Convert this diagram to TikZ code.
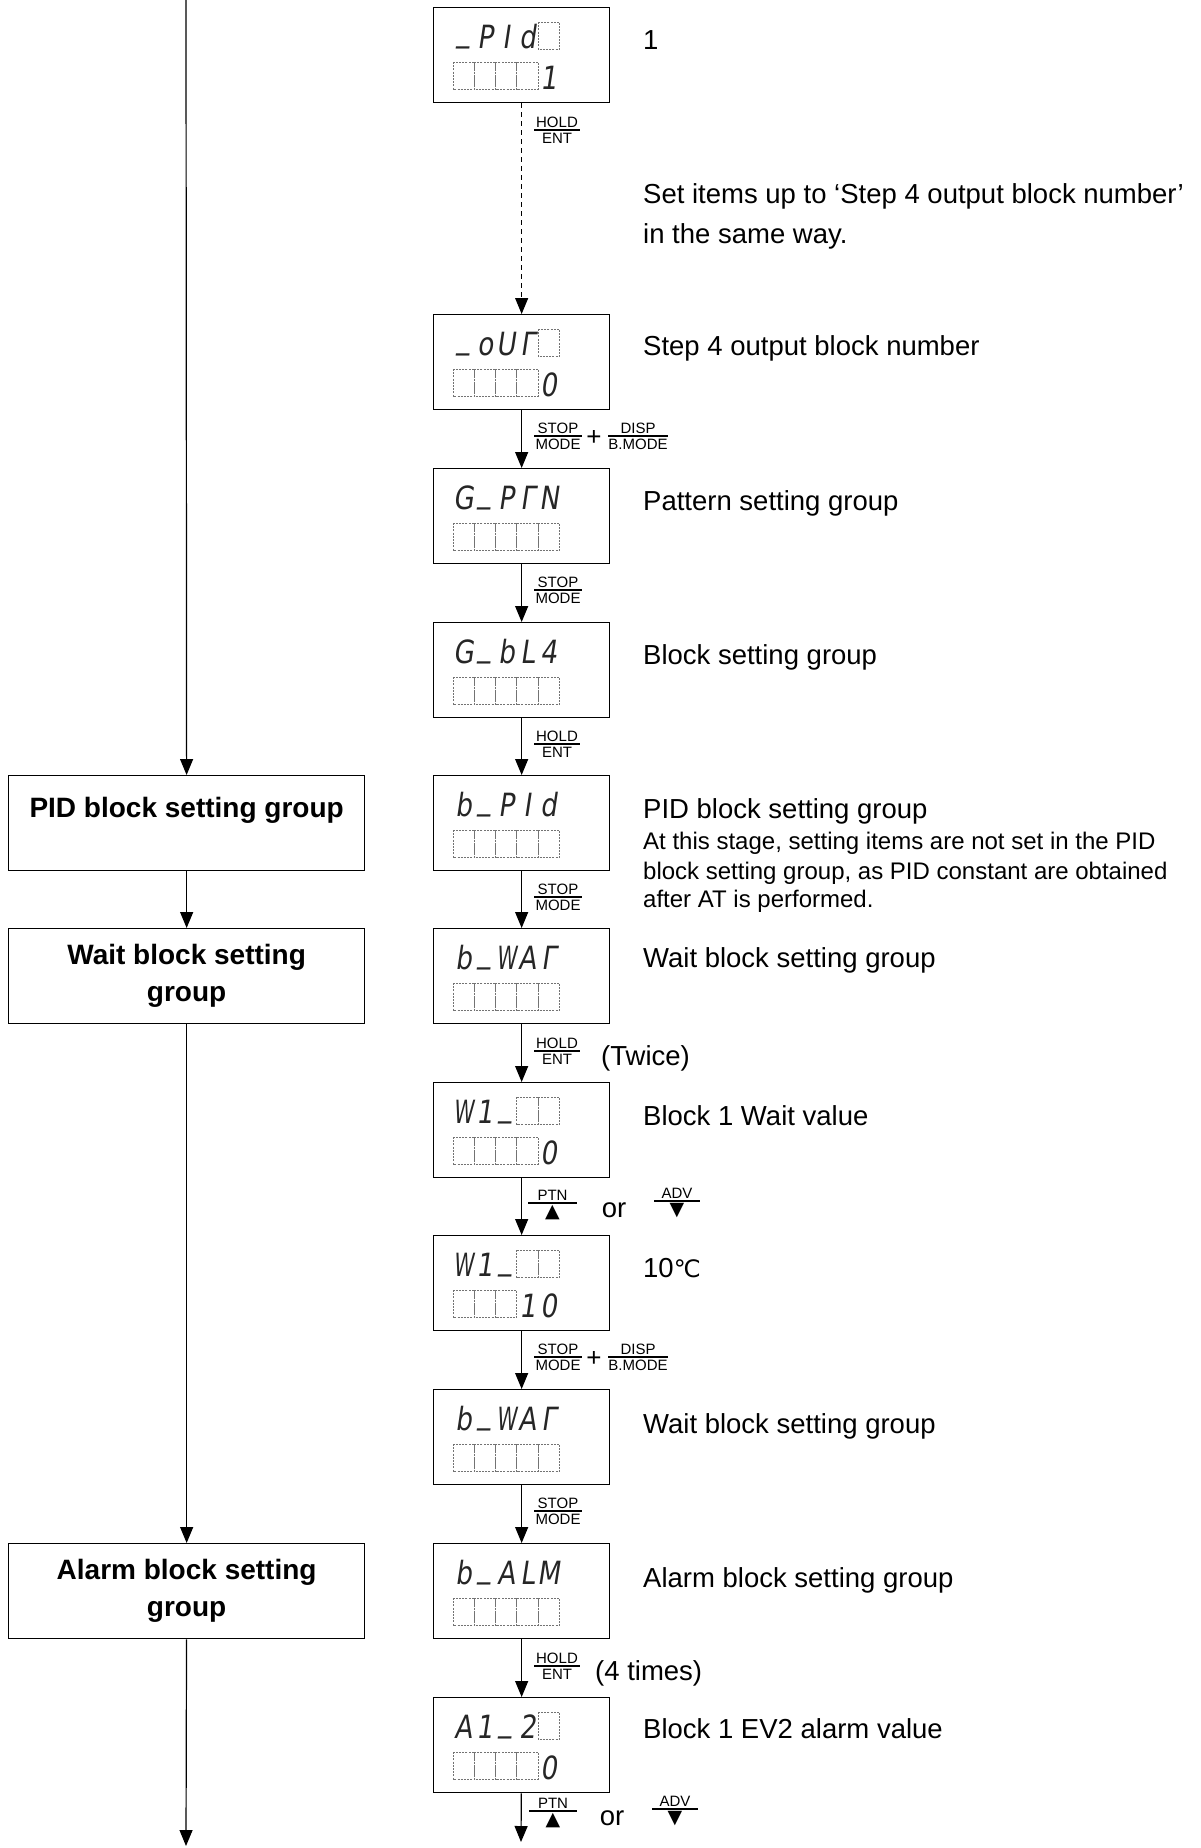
\documentclass[tikz,border=0pt]{standalone}
\usepackage{fontspec}
\usepackage{graphicx}
\setmainfont{Liberation Sans}
\newfontfamily\segfont[FakeSlant=0.15,FakeStretch=0.82]{DejaVu Sans}
\newfontfamily\symfont{DejaVu Sans}
\usetikzlibrary{arrows.meta}
\newcommand\segc[1]{\makebox[21.3pt]{#1}}
\newcommand\segus{\raisebox{0.2em}{\_}}
\newcommand\segw{\scalebox{0.78}[1]{W}}
\newcommand\cellsrow[2]{\foreach \k in {#2} {\draw[cell] ({453+21.3*\k},{#1}) rectangle ++(21.3,27.5);}}
\newcommand\keyf[6]{%
  \draw[keybar] (#2,#3) -- ++(#4,0);
  \node[keyt, anchor=south] (#1t) at ({#2+#4/2},{#3-2}) {#5};
  \node[keyt, anchor=north] (#1b) at ({#2+#4/2},{#3+2.5}) {#6};}
\newcommand\up{{\symfont\fontsize{19}{19}\selectfont ▲}}
\newcommand\down{{\symfont\fontsize{19}{19}\selectfont ▼}}
\begin{document}
\begin{tikzpicture}[x=1pt,y=-1pt,
  plainbox/.style={draw, line width=1.3pt, inner sep=0pt, anchor=north west},
  dispbox/.style={plainbox, minimum width=176pt, minimum height=95pt},
  leftbox/.style={plainbox, minimum width=356pt, minimum height=95pt, align=center,
    font=\fontsize{28}{37}\selectfont\bfseries},
  arr/.style={line width=1.2pt, -{Triangle[length=16pt,width=13pt]}},
  cell/.style={draw=black!55, line width=0.9pt, dash pattern=on 2pt off 1.2pt},
  seg/.style={font=\segfont\fontsize{32}{32}\selectfont, text=black!85, inner sep=0pt, anchor=base west},
  txt/.style={font=\fontsize{27.5}{32}\selectfont, inner sep=0pt, anchor=base west},
  small/.style={font=\fontsize{24}{28}\selectfont, inner sep=0pt, anchor=base west},
  keyt/.style={font=\fontsize{15}{16}\selectfont, inner sep=0pt},
  keybar/.style={line width=1.5pt},
  plus/.style={font=\fontsize{26}{26}\selectfont, inner sep=0pt},
]
\useasboundingbox (0,0) rectangle (1200,1848);

% ---------------- left column ----------------
\coordinate (ltop) at (186,0);
\node[leftbox] (lpid) at (8,775) {PID block setting group\\[-5.5pt]\mbox{}};
\node[leftbox] (lwait) at (8,928) {Wait block setting\\group};
\node[leftbox] (lalarm) at (8,1543) {Alarm block setting\\group};
\coordinate (lbot) at (186,1846);
\draw[arr] (ltop) -- (lpid);
\draw[arr] (lpid) -- (lwait);
\draw[arr] (lwait) -- (lalarm);
\draw[arr] (lalarm) -- (lbot);

% ---------------- displays ----------------
% d1
\node[dispbox] (d1) at (433,7) {};
\node[seg] (d1t) at (453,48) {\segc{\segus}\segc{P}\segc{I}\segc{d}};
\cellsrow{22}{4}
\cellsrow{62}{0,1,2,3}
\node[seg] (d1b) at (538.2,89) {\segc{1}};
% d2
\node[dispbox] (d2) at (433,314) {};
\node[seg] (d2t) at (453,355) {\segc{\segus}\segc{o}\segc{U}\segc{Γ}};
\cellsrow{329}{4}
\cellsrow{369}{0,1,2,3}
\node[seg] (d2b) at (538.2,396) {\segc{0}};
% d3
\node[dispbox] (d3) at (433,468) {};
\node[seg] (d3t) at (453,509) {\segc{G}\segc{\segus}\segc{P}\segc{Γ}\segc{N}};
\cellsrow{523}{0,1,2,3,4}
% d4
\node[dispbox] (d4) at (433,622) {};
\node[seg] (d4t) at (453,663) {\segc{G}\segc{\segus}\segc{b}\segc{L}\segc{4}};
\cellsrow{677}{0,1,2,3,4}
% d5
\node[dispbox] (d5) at (433,775) {};
\node[seg] (d5t) at (453,816) {\segc{b}\segc{\segus}\segc{P}\segc{I}\segc{d}};
\cellsrow{830}{0,1,2,3,4}
% d6
\node[dispbox] (d6) at (433,928) {};
\node[seg] (d6t) at (453,969) {\segc{b}\segc{\segus}\segc{\segw}\segc{A}\segc{Γ}};
\cellsrow{983}{0,1,2,3,4}
% d7
\node[dispbox] (d7) at (433,1082) {};
\node[seg] (d7t) at (453,1123) {\segc{\segw}\segc{1}\segc{\segus}};
\cellsrow{1097}{3,4}
\cellsrow{1137}{0,1,2,3}
\node[seg] (d7b) at (538.2,1164) {\segc{0}};
% d8
\node[dispbox] (d8) at (433,1235) {};
\node[seg] (d8t) at (453,1276) {\segc{\segw}\segc{1}\segc{\segus}};
\cellsrow{1250}{3,4}
\cellsrow{1290}{0,1,2}
\node[seg] (d8b) at (516.9,1317) {\segc{1}\segc{0}};
% d9
\node[dispbox] (d9) at (433,1389) {};
\node[seg] (d9t) at (453,1430) {\segc{b}\segc{\segus}\segc{\segw}\segc{A}\segc{Γ}};
\cellsrow{1444}{0,1,2,3,4}
% d10
\node[dispbox] (d10) at (433,1543) {};
\node[seg] (d10t) at (453,1584) {\segc{b}\segc{\segus}\segc{A}\segc{L}\segc{M}};
\cellsrow{1598}{0,1,2,3,4}
% d11
\node[dispbox] (d11) at (433,1697) {};
\node[seg] (d11t) at (453,1738) {\segc{A}\segc{1}\segc{\segus}\segc{2}};
\cellsrow{1712}{4}
\cellsrow{1752}{0,1,2,3}
\node[seg] (d11b) at (538.2,1779) {\segc{0}};

% ---------------- connectors ----------------
\draw[arr, line width=1pt, dash pattern=on 5pt off 4pt] (d1) -- (d2);
\draw[arr] (d2) -- (d3);
\draw[arr] (d3) -- (d4);
\draw[arr] (d4) -- (d5);
\draw[arr] (d5) -- (d6);
\draw[arr] (d6) -- (d7);
\draw[arr] (d7) -- (d8);
\draw[arr] (d8) -- (d9);
\draw[arr] (d9) -- (d10);
\draw[arr] (d10) -- (d11);
\coordinate (dend) at (521,1842);
\draw[arr] (d11) -- (dend);

% ---------------- key labels ----------------
\keyf{k1}{534}{130}{46}{HOLD}{ENT}
\keyf{k2}{534}{436}{48}{STOP}{MODE}
\node[plus] (k2p) at (594,438) {+};
\keyf{k2d}{608}{436}{60}{DISP}{B.MODE}
\keyf{k3}{534}{590}{48}{STOP}{MODE}
\keyf{k4}{534}{744}{46}{HOLD}{ENT}
\keyf{k5}{534}{897}{48}{STOP}{MODE}
\keyf{k6}{534}{1051}{46}{HOLD}{ENT}
\node[txt] (twice) at (601,1065) {(Twice)};
\keyf{k7}{528}{1203}{49}{PTN}{\up}
\node[txt, anchor=base] (or1) at (614,1217) {or};
\keyf{k7a}{654}{1201}{46}{ADV}{\down}
\keyf{k8}{534}{1357}{48}{STOP}{MODE}
\node[plus] (k8p) at (594,1359) {+};
\keyf{k8d}{608}{1357}{60}{DISP}{B.MODE}
\keyf{k9}{534}{1511}{48}{STOP}{MODE}
\keyf{k10}{534}{1666}{46}{HOLD}{ENT}
\node[txt] (fourtimes) at (595,1680) {(4 times)};
\keyf{k11}{529}{1811}{48}{PTN}{\up}
\node[txt, anchor=base] (or2) at (612,1825) {or};
\keyf{k11a}{652}{1809}{46}{ADV}{\down}

% ---------------- right texts ----------------
\node[txt] (r1) at (643,49) {1};
\node[txt] (r2) at (643,203) {Set items up to ‘Step 4 output block number’};
\node[txt] (r3) at (643,243) {in the same way.};
\node[txt] (r4) at (643,355) {Step 4 output block number};
\node[txt] (r5) at (643,510) {Pattern setting group};
\node[txt] (r6) at (643,664) {Block setting group};
\node[txt] (r7) at (643,818) {PID block setting group};
\node[small] (r8) at (643,849) {At this stage, setting items are not set in the PID};
\node[small] (r9) at (643,879) {block setting group, as PID constant are obtained};
\node[small] (r10) at (643,907) {after AT is performed.};
\node[txt] (r11) at (643,967) {Wait block setting group};
\node[txt] (r12) at (643,1125) {Block 1 Wait value};
\node[txt] (r13) at (643,1277) {10{\symfont\fontsize{24}{28}\selectfont ℃}};
\node[txt] (r14) at (643,1433) {Wait block setting group};
\node[txt] (r15) at (643,1587) {Alarm block setting group};
\node[txt] (r16) at (643,1738) {Block 1 EV2 alarm value};
\end{tikzpicture}
\end{document}
